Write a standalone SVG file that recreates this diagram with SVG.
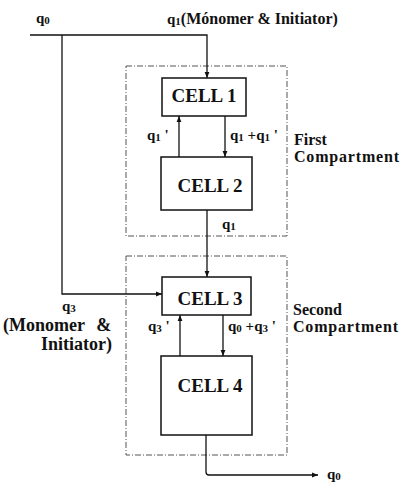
<svg xmlns="http://www.w3.org/2000/svg" width="403" height="482" viewBox="0 0 403 482">
<style>
text{font-family:"Liberation Serif","Times New Roman",serif;fill:#111;font-weight:bold}
.cell{font-size:19px;text-anchor:middle}
.lbl{font-size:16px}
.cl{font-size:16px}
.ml{font-size:18px}
.sm{font-size:15px}
.sub{font-size:11px}
.box{fill:#fff;stroke:#111;stroke-width:1.5}
.comp{fill:none;stroke:#555;stroke-width:1;stroke-dasharray:6 2 1 2}
.ln{fill:none;stroke:#111;stroke-width:1.3}
</style>
<defs>
<marker id="ah" viewBox="0 0 10 10" refX="10" refY="5" markerWidth="6" markerHeight="6" markerUnits="userSpaceOnUse" orient="auto">
<path d="M0,1 L10,5 L0,9 z" fill="#111"/>
</marker>
</defs>
<g id="comp1"><rect class="comp" x="126" y="66" width="161" height="170"/>
<text class="cl" x="294" y="145">First</text><text class="cl" x="294" y="162" textLength="105" lengthAdjust="spacing">Compartment</text></g>
<g id="comp2"><rect class="comp" x="126" y="256" width="161" height="199"/>
<text class="cl" x="293" y="315">Second</text><text class="cl" x="293" y="332" textLength="105" lengthAdjust="spacing">Compartment</text></g>
<g id="connectors">
<path class="ln" d="M30,35 H207 V78" marker-end="url(#ah)"/>
<path class="ln" d="M62,35 V294 H162" marker-end="url(#ah)"/>
<path class="ln" d="M179,157 V116" marker-end="url(#ah)"/>
<path class="ln" d="M225,116 V157" marker-end="url(#ah)"/>
<path class="ln" d="M207,210 V277" marker-end="url(#ah)"/>
<path class="ln" d="M180,356 V315" marker-end="url(#ah)"/>
<path class="ln" d="M223,315 V356" marker-end="url(#ah)"/>
<path class="ln" d="M206,435 V472 Q206,475 209,475 H318" marker-end="url(#ah)"/>
</g>
<g id="cell1"><rect class="box" x="162" y="78" width="84" height="38"/><text class="cell" x="204" y="102">CELL 1</text></g>
<g id="cell2"><rect class="box" x="161" y="157" width="91" height="53"/><text class="cell" x="210" y="192">CELL 2</text></g>
<g id="cell3"><rect class="box" x="162" y="277" width="89" height="38"/><text class="cell" x="210" y="305">CELL 3</text></g>
<g id="cell4"><rect class="box" x="161" y="356" width="91" height="79"/><text class="cell" x="210" y="392">CELL 4</text></g>
<g id="labels">
<text class="sm" x="36" y="23">q<tspan class="sub" dy="1">0</tspan></text>
<text class="lbl" x="167" y="24"><tspan class="sm">q</tspan><tspan class="sub" dy="1">1</tspan><tspan dy="-1">(Mónomer &amp; Initiator)</tspan></text>
<text class="sm" x="147" y="140">q<tspan class="sub" dy="1">1</tspan><tspan dy="-1"> '</tspan></text>
<text class="sm" x="230" y="140">q<tspan class="sub" dy="1">1</tspan><tspan dy="-1"> +q</tspan><tspan class="sub" dy="1">1</tspan><tspan dy="-1"> '</tspan></text>
<text class="sm" x="222" y="229">q<tspan class="sub" dy="1">1</tspan></text>
<text class="sm" x="62" y="311">q<tspan class="sub" dy="1">3</tspan></text>
<text class="ml" x="3" y="331" word-spacing="7">(Monomer &amp;</text>
<text class="ml" x="112" y="350" text-anchor="end">Initiator)</text>
<text class="sm" x="148" y="331">q<tspan class="sub" dy="1">3</tspan><tspan dy="-1"> '</tspan></text>
<text class="sm" x="228" y="331">q<tspan class="sub" dy="1">0</tspan><tspan dy="-1"> +q</tspan><tspan class="sub" dy="1">3</tspan><tspan dy="-1"> '</tspan></text>
<text class="sm" x="327" y="479">q<tspan class="sub" dy="1">0</tspan></text>
</g>
</svg>
